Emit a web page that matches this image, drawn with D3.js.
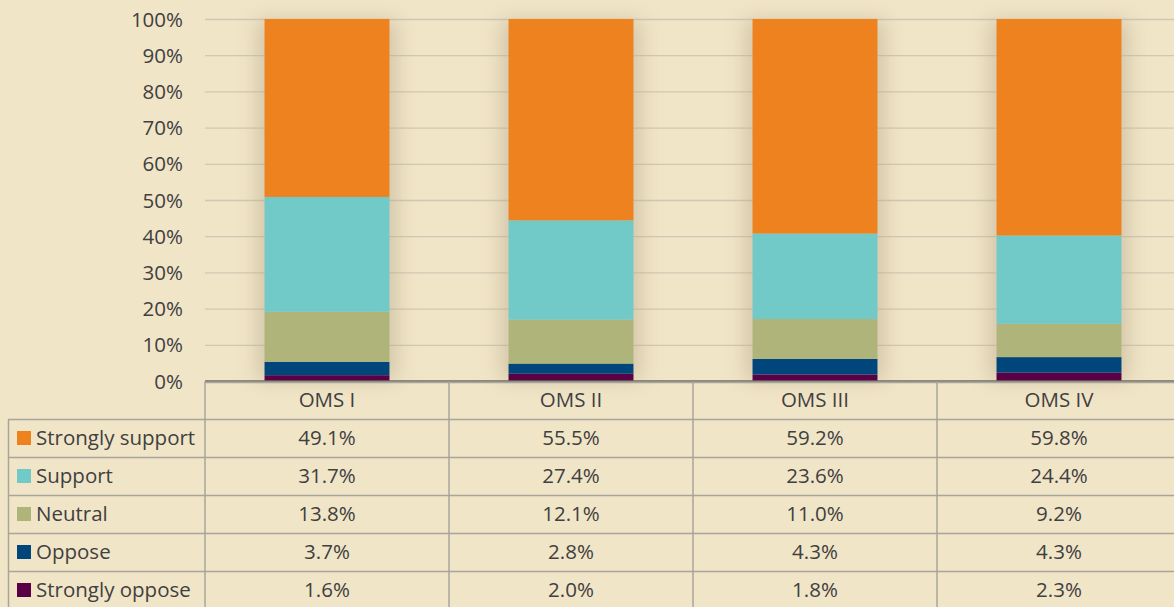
<!DOCTYPE html>
<html><head><meta charset="utf-8">
<script src="https://cdn.jsdelivr.net/npm/d3@7"></script>
<style>
html,body{margin:0;padding:0;background:#F1E5C8;overflow:hidden;}
text{font-family:"Open Sans",Lato,sans-serif;fill:#404040;}
</style></head><body>
<svg id="c" width="1174" height="607"></svg>
<script>
const categories = ["OMS I","OMS II","OMS III","OMS IV"];
const seriesNames = ["Strongly support","Support","Neutral","Oppose","Strongly oppose"];
const stronglySupport = [49.1,55.5,59.2,59.8];
const support = [31.7,27.4,23.6,24.4];
const neutral = [13.8,12.1,11.0,9.2];
const oppose = [3.7,2.8,4.3,4.3];
const stronglyOppose = [1.6,2.0,1.8,2.3];
const yTicks = [0,10,20,30,40,50,60,70,80,90,100];
const colors = ["#EE821E","#72CAC8","#AFB57A","#00467A","#5A0046"];

const seriesVals = [stronglySupport,support,neutral,oppose,stronglyOppose];
const rows = categories.map((c,i)=>{
  const o={cat:c};
  const tot = seriesVals.reduce((s,a)=>s+a[i],0);
  seriesNames.forEach((n,k)=>o[n]=seriesVals[k][i]/tot*100);
  return o;
});
const stackOrder = seriesNames.slice().reverse();
const stacked = d3.stack().keys(stackOrder)(rows);

const svg = d3.select("#c");
const x0=205, x1=1181, yTop=19, yBot=381;
const x = d3.scaleBand().domain(categories).range([x0,x1]).paddingInner(0).paddingOuter(0);
const y = d3.scaleLinear().domain([0,100]).range([yBot,yTop]);
const barW = x.bandwidth()*0.512;
const fs = "20.5px";

const defs = svg.append("defs");
const f = defs.append("filter").attr("id","glow").attr("x","-50%").attr("y","-10%").attr("width","200%").attr("height","120%");
f.append("feGaussianBlur").attr("stdDeviation",10);

// gridlines
svg.append("g").selectAll("line").data(yTicks.filter(t=>t>0)).join("line")
  .attr("x1",x0).attr("x2",1174).attr("y1",d=>y(d)+0.5).attr("y2",d=>y(d)+0.5)
  .attr("stroke","#CFC8B2").attr("stroke-width",1.3);

// shadows
svg.append("g").selectAll("rect").data(categories).join("rect")
  .attr("x",d=>x(d)+x.bandwidth()/2-barW/2-8).attr("y",y(100)).attr("width",barW+16).attr("height",y(0)-y(100))
  .attr("fill","#B8A98A").attr("opacity",0.5).attr("filter","url(#glow)");

// bars
const colorOf = n=>colors[seriesNames.indexOf(n)];
svg.append("g").selectAll("g").data(stacked).join("g").attr("fill",d=>colorOf(d.key))
  .selectAll("rect").data(d=>d).join("rect")
  .attr("x",d=>x(d.data.cat)+x.bandwidth()/2-barW/2).attr("width",barW)
  .attr("y",d=>y(d[1])).attr("height",d=>y(d[0])-y(d[1]));

// y axis labels
const yAxis = d3.axisLeft(y).tickValues(yTicks).tickFormat(d=>d+"%").tickSize(0).tickPadding(0);
const ga = svg.append("g").attr("transform",`translate(183,0)`).call(yAxis);
ga.select(".domain").remove();
ga.selectAll("text").style("font-size",fs).style("font-family","'Open Sans',sans-serif").attr("fill","#404040").attr("dy","0.35em");

// axis line
svg.append("line").attr("x1",x0).attr("x2",1174).attr("y1",381).attr("y2",381).attr("stroke","#6E6A60").attr("stroke-width",1.5);

// table
const rowH = 38, tTop = 381.5;
const tg = svg.append("g");
const lc="#A8A59C";
tg.append("line").attr("x1",x0).attr("x2",1174).attr("y1",tTop+1).attr("y2",tTop+1).attr("stroke",lc).attr("stroke-width",1.5);
for(let r=1;r<=6;r++){
  const yy=tTop+r*rowH;
  tg.append("line").attr("x1",8).attr("x2",1174).attr("y1",yy).attr("y2",yy).attr("stroke",lc).attr("stroke-width",1.5);
}
tg.append("line").attr("x1",8.5).attr("x2",8.5).attr("y1",tTop+rowH).attr("y2",607).attr("stroke",lc).attr("stroke-width",1.5);
categories.forEach(c=>{
  tg.append("line").attr("x1",x(c)).attr("x2",x(c)).attr("y1",tTop).attr("y2",607).attr("stroke",lc).attr("stroke-width",1.5);
});
tg.selectAll("text.h").data(categories).join("text").attr("class","h")
  .attr("x",d=>x(d)+x.bandwidth()/2).attr("y",tTop+rowH/2-1).attr("dy","0.35em")
  .attr("text-anchor","middle").style("font-size",fs).text(d=>d);
seriesNames.forEach((n,k)=>{
  const cy = tTop+(k+1)*rowH+rowH/2-1;
  tg.append("rect").attr("x",17).attr("y",cy-6.5).attr("width",14).attr("height",14).attr("fill",colors[k]);
  tg.append("text").attr("x",36).attr("y",cy).attr("dy","0.35em").style("font-size",fs).text(n);
  categories.forEach((c,i)=>{
    tg.append("text").attr("x",x(c)+x.bandwidth()/2).attr("y",cy).attr("dy","0.35em")
      .attr("text-anchor","middle").style("font-size",fs).text(seriesVals[k][i].toFixed(1)+"%");
  });
});
</script></body></html>
